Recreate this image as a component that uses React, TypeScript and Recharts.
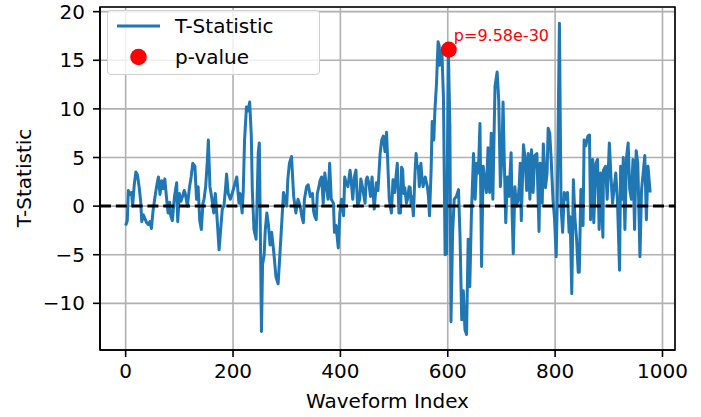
import React from 'react';
import {
  LineChart,
  Line,
  XAxis,
  YAxis,
  CartesianGrid,
  ReferenceLine,
  ReferenceDot,
  ReferenceArea,
} from 'recharts';

const waveformIndex = [
  0, 3, 5, 8, 11, 13, 16, 19, 22, 25, 28, 30, 33, 36, 39, 42, 45, 48, 51, 54,
  57, 61, 64, 67, 70, 73, 76, 79, 82, 84, 87, 91, 95, 97, 100, 103, 106, 109, 111, 115,
  119, 122, 125, 129, 132, 135, 138, 141, 144, 146, 149, 152, 154, 157, 160, 164, 167, 170, 174, 177,
  180, 183, 186, 188, 191, 195, 200, 204, 207, 211, 213, 217, 219, 221.5, 225, 228, 231, 234, 236, 239,
  243, 247, 249, 253, 255, 258, 260, 263, 266, 269, 272, 276, 280, 284, 289, 294, 297, 300, 302, 305,
  309, 311, 313, 317, 321, 325, 328, 331, 333, 337, 340, 344, 348, 350, 352, 355, 357, 360, 362, 365,
  368, 371, 374, 377, 380, 383, 387, 389, 392, 396, 399, 402, 406, 408, 410, 414, 418, 420, 423, 426,
  429, 432, 436, 438, 441, 446, 448, 450, 453, 456, 459, 463, 467, 470, 474, 477, 480, 483, 486, 489,
  491, 495, 498, 501, 503, 506, 509, 512, 514, 516, 518, 520, 523, 525, 528, 530, 532, 533, 536, 539,
  541, 543, 545, 547, 550, 552, 554, 558, 562, 564, 566, 569, 571, 574, 576, 579, 582, 584, 585, 587,
  589, 592, 595, 598, 601, 604, 606, 609, 612, 616, 620, 623, 626, 629, 632, 635, 638, 641, 644, 648,
  651, 654, 657, 660, 663, 666, 669, 672, 675, 678, 681, 684, 688, 692, 695, 698, 701, 703, 705, 708,
  711, 714, 718, 720, 722, 725, 728, 731, 733, 735, 737, 741, 744, 747, 750, 753, 756, 759, 762, 766,
  770, 772, 776, 778, 782, 785, 787, 790, 793, 796, 799, 802, 804, 808, 811, 814, 817, 820, 823, 826,
  828, 831, 834, 837, 840, 843, 845, 848, 852, 854, 857, 861, 864, 866, 870, 872, 876, 879, 882, 885,
  889, 890, 894, 897, 901, 904, 907, 910, 913, 916, 920, 922, 925, 927, 930, 933, 936, 939, 942, 945,
  948, 951, 954, 958, 961, 964, 967, 970, 973, 977,
];

const tStatistic = [
  -2.0, -1.5, 1.6, 1.2, 1.4, 0.0, 2.2, 3.5, 3.2, 2.0, 0.5, -1.6, -0.9, -1.3, -1.7, -1.9, -1.6, -2.3, -0.5, 0.7,
  1.8, 3.0, 1.2, 2.6, 1.8, 2.8, 0.9, -0.7, 0.4, -1.0, -1.5, 1.0, 2.4, -1.6, 1.3, 0.5, 1.0, 1.6, 1.3, 0.0,
  2.0, 3.0, 4.4, 4.1, 0.7, 2.0, -1.5, -2.4, 0.3, 0.7, 2.0, 4.5, 6.8, 2.0, 1.0, -0.7, 1.3, -1.0, -4.5, -2.4,
  -0.3, 0.0, 1.8, 3.3, 1.3, 0.7, 1.6, 2.4, 3.0, 0.3, 1.3, -0.7, 1.5, 6.8, 10.2, 9.8, 10.7, 7.3, 1.5, -2.4,
  -3.4, 5.5, 6.5, -12.9, -6.0, -5.0, -2.5, -0.7, -2.0, -4.0, -2.7, -4.8, -7.3, -8.0, -3.4, 1.4, 0.7, 0.0, 2.7, 4.4,
  5.1, 3.0, 1.0, -0.7, 0.7, 0.0, -1.0, -1.7, 0.7, 2.0, 2.2, 1.0, 1.3, -0.5, -1.0, -1.4, 1.3, 2.0, 2.6, 3.0,
  0.3, 3.4, 2.0, 0.7, 4.4, 0.7, 0.3, -2.7, -2.0, -4.3, -0.7, 0.7, -1.0, 3.0, 2.5, 2.0, 3.7, 2.7, 0.7, 3.0,
  3.7, 0.0, 0.7, 2.8, 2.0, 0.3, 2.7, 3.0, 2.4, 1.0, 3.0, -0.3, 2.4, 1.6, 5.4, 6.8, 7.2, 5.6, 7.6, 3.4,
  0.7, -0.7, 2.7, 1.4, 2.7, 4.4, -0.7, -0.7, 4.0, 3.7, 1.3, 1.9, 0.3, 0.7, 2.0, 1.9, 0.0, 1.0, -1.0, 3.4,
  5.4, 4.0, 4.1, 2.0, 4.4, 2.8, 2.0, 3.0, 2.0, 1.0, -1.0, 3.7, 8.7, 6.8, 9.8, 12.6, 16.9, 16.5, 14.5, 15.3,
  16.0, 11.1, -5.0, -4.9, 16.4, 8.0, -11.9, -2.8, 0.7, 1.0, 1.7, -3.4, -11.7, -8.7, -12.7, -13.2, -3.4, -8.3, -1.0, 5.4,
  0.7, 4.4, 3.4, 8.5, -6.2, 4.1, 2.7, 1.4, 6.0, 1.4, 7.5, 0.7, 12.3, 13.8, 10.8, 2.0, 5.4, 10.7, 5.4, -1.7,
  3.0, 1.0, 5.5, -1.0, -4.9, 2.0, 0.0, 0.7, 2.0, 4.4, -1.5, 6.3, 5.0, 1.6, 5.4, 0.7, 5.8, 1.4, 5.2, 5.4,
  -2.6, 4.4, 0.3, 6.4, 1.9, 3.4, 8.0, 7.5, 4.4, 0.7, -1.4, -5.2, 0.7, 18.8, 0.0, -2.7, 1.4, 0.7, 1.4, -2.7,
  -1.1, -9.0, 2.7, -1.4, -3.4, -6.8, -6.8, 1.7, -2.0, 6.8, 6.2, 7.2, 7.3, -1.4, 4.8, -1.7, 4.4, 4.8, -2.4, 3.4,
  -3.2, 3.7, 4.1, 0.7, 6.5, 3.0, 0.3, 1.9, 3.4, 0.7, -6.6, 4.1, 0.7, 5.0, -2.4, 5.0, 6.5, 1.7, 0.7, 4.8,
  -2.4, 5.7, 4.4, -5.2, 1.7, 3.4, 5.2, -1.4, 4.1, 1.4,
];

const xTicks = [0, 200, 400, 600, 800, 1000];
const yTicks = [-10, -5, 0, 5, 10, 15, 20];
const xDomain = [-47.8, 1023.3];
const yDomain = [-14.8, 20.48];

const pValueIndex = 602;
const pValueT = 16.1;
const pValueLabel = 'p=9.58e-30';

const seriesName = 'T-Statistic';
const markerName = 'p-value';
const xLabel = 'Waveform Index';
const yLabel = 'T-Statistic';

const data = waveformIndex.map((x, i) => ({ x, t: tStatistic[i] }));

const FONT = '"DejaVu Sans", sans-serif';
const BLUE = '#1f77b4';
const FS = 20;

const YLabel = () => (
  <text
    x={31}
    y={178}
    transform="rotate(-90, 31, 178)"
    textAnchor="middle"
    fill="#000"
    fontSize={FS}
    fontFamily={FONT}
  >
    {yLabel}
  </text>
);

const XLabel = () => (
  <text x={387.5} y={408} textAnchor="middle" fill="#000" fontSize={FS} fontFamily={FONT}>
    {xLabel}
  </text>
);

const PDot = (props: any) => {
  const { cx, cy } = props;
  return (
    <g>
      <circle cx={cx} cy={cy} r={8} fill="red" />
      <text x={cx + 5} y={cy - 8.5} fill="red" fontSize={16} fontFamily={FONT}>
        {pValueLabel}
      </text>
    </g>
  );
};

export default function App() {
  return (
    <div
      style={{
        position: 'absolute',
        left: 0,
        top: 0,
        width: 701,
        height: 417,
        background: '#fff',
        fontFamily: FONT,
      }}
    >
      <LineChart
        width={701}
        height={417}
        data={data}
        margin={{ top: 7, right: 26, bottom: 0, left: 0 }}
      >
        <CartesianGrid stroke="#b0b0b0" strokeWidth={1.6} />
        <XAxis
          type="number"
          dataKey="x"
          domain={xDomain}
          ticks={xTicks}
          allowDataOverflow
          height={67}
          tickSize={7}
          tickMargin={7}
          tick={{ fill: '#000', fontSize: FS, fontFamily: FONT }}
          tickLine={{ stroke: '#000', strokeWidth: 1.6 }}
          axisLine={{ stroke: '#000', strokeWidth: 1.6 }}
          label={<XLabel />}
        />
        <YAxis
          type="number"
          domain={yDomain}
          ticks={yTicks}
          allowDataOverflow
          width={100}
          tickSize={7}
          tickMargin={8}
          tick={{ fill: '#000', fontSize: FS, fontFamily: FONT }}
          tickLine={{ stroke: '#000', strokeWidth: 1.6 }}
          axisLine={{ stroke: '#000', strokeWidth: 1.6 }}
          tickFormatter={(v: number) => (v < 0 ? `\u2212${Math.abs(v)}` : `${v}`)}
          label={<YLabel />}
        />
        <Line
          type="linear"
          dataKey="t"
          name={seriesName}
          stroke={BLUE}
          strokeWidth={3}
          strokeLinejoin="round"
          dot={false}
          activeDot={false}
          isAnimationActive={false}
        />
        <ReferenceLine y={0} stroke="#000" strokeWidth={3} strokeDasharray="11 4.8" />
        <ReferenceDot x={pValueIndex} y={pValueT} r={8} shape={<PDot />} />
        <ReferenceArea
          x1={xDomain[0]}
          x2={xDomain[1]}
          y1={yDomain[0]}
          y2={yDomain[1]}
          fill="none"
          fillOpacity={0}
          stroke="#000"
          strokeWidth={1.6}
          ifOverflow="visible"
        />
      </LineChart>
      <div
        style={{
          position: 'absolute',
          left: 107,
          top: 10,
          width: 213,
          height: 65,
          border: '1.5px solid #d0d0d0',
          borderRadius: 4,
          background: 'rgba(255,255,255,0.8)',
          boxSizing: 'border-box',
          fontSize: FS,
          color: '#000',
        }}
      >
        <div style={{ position: 'absolute', left: 8, top: 2, height: 26, display: 'flex', alignItems: 'center' }}>
          <svg width={45} height={6} style={{ display: 'block' }}>
            <line x1={1} y1={3} x2={44} y2={3} stroke={BLUE} strokeWidth={3} />
          </svg>
          <span style={{ marginLeft: 14, whiteSpace: 'nowrap' }}>{seriesName}</span>
        </div>
        <div style={{ position: 'absolute', left: 8, top: 33, height: 26, display: 'flex', alignItems: 'center' }}>
          <svg width={45} height={18} style={{ display: 'block' }}>
            <circle cx={22.5} cy={9} r={8.3} fill="red" />
          </svg>
          <span style={{ marginLeft: 14, whiteSpace: 'nowrap' }}>{markerName}</span>
        </div>
      </div>
    </div>
  );
}
